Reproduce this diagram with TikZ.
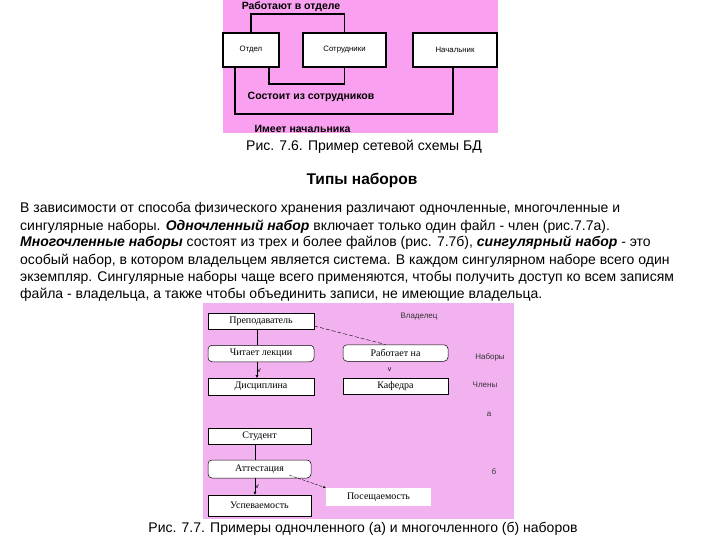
\documentclass[tikz,border=0pt]{standalone}
\usepackage{fontspec}
\setmainfont{Liberation Sans}
\newfontfamily\boxserif{Liberation Serif}
\usetikzlibrary{arrows.meta,positioning,calc}
\definecolor{pinktop}{RGB}{249,160,240}
\definecolor{pinklow}{RGB}{242,178,240}

\begin{document}
\begin{tikzpicture}[x=1pt,y=-1pt,>=Stealth,every node/.style={inner sep=0pt,font=\fontsize{14}{17}\selectfont},
  tbox/.style={draw,line width=1.6pt,fill=white,minimum height=34pt,font=\fontsize{7.8}{9}\selectfont},
  rel/.style={line width=1.6pt},
  relname/.style={anchor=base,font=\bfseries\fontsize{10.5}{12}\selectfont},
  lbox/.style={draw,line width=0.5pt,fill=white,minimum height=16.5pt,font=\boxserif\fontsize{10}{11}\selectfont},
  rbox/.style={lbox,rounded corners=4pt},
  side/.style={anchor=base,text=black!80,font=\fontsize{8}{9}\selectfont},
  vmark/.style={font=\fontsize{7}{8}\selectfont},
  para/.style={anchor=base west}]
\useasboundingbox (0,0) rectangle (720,540);
\fill[white] (0,0) rectangle (720,540);
% network schema
\fill[pinktop] (223,0) rectangle (498,133);
\node[tbox,minimum width=56pt] (otdel) at (251,50) {Отдел};
\node[tbox,minimum width=83pt] (sotr) at (344.5,50) {Сотрудники};
\node[tbox,minimum width=84pt] (nach) at (455,50) {Начальник};
\draw[rel] (otdel.north) -- ++(0,-18) -| (sotr.north);
\draw[rel] ([xshift=18pt]otdel.south) -- ++(0,16) -| (sotr.south);
\draw[rel] ([xshift=-16pt]otdel.south) -- ++(0,46) -| ([xshift=-2pt]nach.south);
\node[relname] (rabotayut) at (291,10) {Работают в отделе};
\node[relname] (sostoit) at (311,100) {Состоит из сотрудников};
\node[relname] (imeet) at (302.5,133) {Имеет начальника};
\node[anchor=base] (cap76) at (364,151) {Рис. 7.6. Пример сетевой схемы БД};
% text
\node[anchor=base,font=\bfseries\fontsize{15.5}{17}\selectfont] (title) at (362,185) {Типы наборов};
\node[para] (p1) at (20,213) {В зависимости от способа физического хранения различают одночленные, многочленные и};
\node[para] (p2) at (20,230) {сингулярные наборы. \textbf{\textit{Одночленный набор}} включает только один файл - член (рис.7.7а).};
\node[para] (p3) at (20,247) {\textbf{\textit{Многочленные наборы}} состоят из трех и более файлов (рис. 7.7б), \textbf{\textit{сингулярный набор}} - это};
\node[para] (p4) at (20,264) {особый набор, в котором владельцем является система. В каждом сингулярном наборе всего один};
\node[para] (p5) at (20,281) {экземпляр. Сингулярные наборы чаще всего применяются, чтобы получить доступ ко всем записям};
\node[para] (p6) at (20,298) {файла - владельца, а также чтобы объединить записи, не имеющие владельца.};
% sets
\fill[pinklow] (203,303) rectangle (514,519);
\node[lbox,minimum width=106pt] (prep) at (261,321) {Преподаватель};
\node[rbox,minimum width=106pt] (chit) at (261,353.5) {Читает лекции};
\node[lbox,minimum width=106pt] (disc) at (261,386.5) {Дисциплина};
\node[rbox,minimum width=105pt] (rab) at (395.5,353) {Работает на};
\node[lbox,minimum width=105pt] (kaf) at (395.5,386) {Кафедра};
\node[lbox,minimum width=103pt] (stud) at (259.5,436) {Студент};
\node[rbox,minimum width=103pt,minimum height=18pt] (att) at (259.5,469) {Аттестация};
\node[lbox,minimum width=103pt,minimum height=21pt] (usp) at (259.5,505.5) {Успеваемость};
\node[fill=white,minimum width=105pt,minimum height=18pt,font=\boxserif\fontsize{10}{11}\selectfont] (pos) at (378.5,497) {Посещаемость};
\draw ([xshift=-4pt]prep.south) -- ([xshift=-4pt]chit.north);
\draw[-{Latex[length=3pt,width=3pt]}] ([xshift=-4pt]chit.south) -- ([xshift=-4pt]disc.north) node[vmark,pos=0.55,xshift=2pt] {v};
\path (rab.south) -- (kaf.north) node[vmark,midway,xshift=-6pt] {v};
\draw[dash pattern=on 4pt off 2pt] ([yshift=-5pt]prep.east) -- ([xshift=-10pt]rab.north);
\draw ([xshift=-4.5pt]stud.south) -- ([xshift=-4.5pt]att.north);
\draw[-{Latex[length=3pt,width=3pt]}] ([xshift=-4.5pt]att.south) -- ([xshift=-4.5pt]usp.north) node[vmark,pos=0.5,xshift=2pt] {v};
\draw[dash pattern=on 3pt off 1.5pt,-{Latex[length=2.5pt,width=2.5pt]}] ([xshift=30pt,yshift=3pt]att.south) -- (pos.north west);
\node[side] (owner) at (419,318) {Владелец};
\node[side] (nabory) at (490,359) {Наборы};
\node[side] (chleny) at (485,387) {Члены};
\node[side] (la) at (489,416) {а};
\node[side] (lb) at (494,474) {б};
\node[anchor=base] (cap77) at (363,532) {Рис. 7.7. Примеры одночленного (а) и многочленного (б) наборов};
\end{tikzpicture}
\end{document}
